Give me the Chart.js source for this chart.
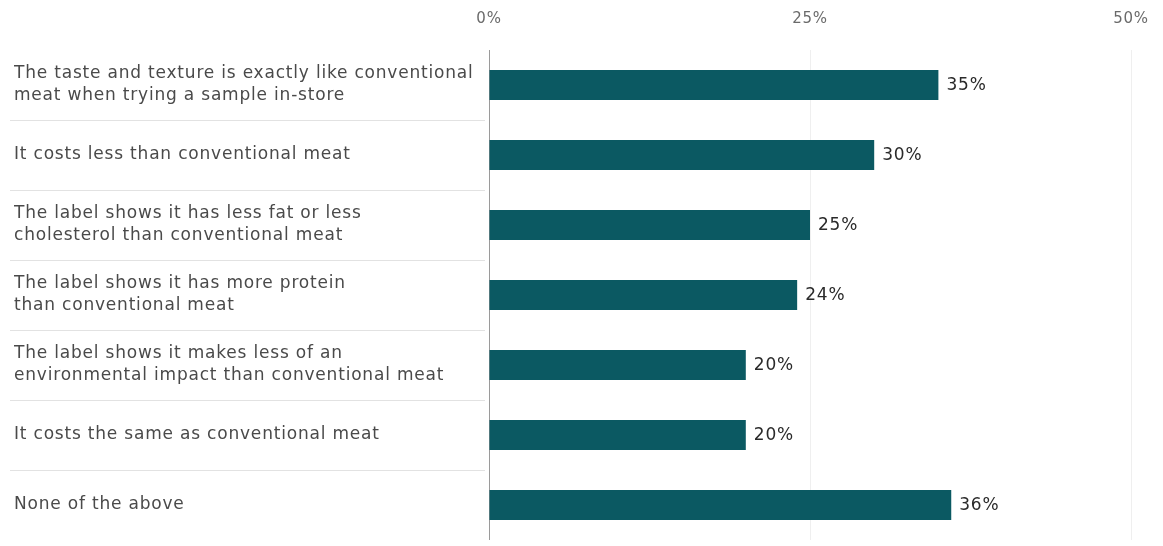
<!DOCTYPE html>
<html>
<head>
<meta charset="utf-8">
<script src="https://cdn.jsdelivr.net/npm/chart.js@4/dist/chart.umd.min.js"></script>
<style>
  html, body { margin: 0; padding: 0; background: #fff; }
  #wrap { width: 1163px; height: 546px; position: relative; }
</style>
</head>
<body>
<div id="wrap"><canvas id="bars"></canvas></div>
<script>
// reasons to buy, one entry per bar (multi-line labels)
var reasons = [
  ["The taste and texture is exactly like conventional", "meat when trying a sample in-store"],
  "It costs less than conventional meat",
  ["The label shows it has less fat or less", "cholesterol than conventional meat"],
  ["The label shows it has more protein", "than conventional meat"],
  ["The label shows it makes less of an", "environmental impact than conventional meat"],
  "It costs the same as conventional meat",
  "None of the above"
];
var shares = [35, 30, 25, 24, 20, 20, 36];
var xTicks = [0, 25, 50];

var FONT = "'DejaVu Sans', 'Noto Sans', sans-serif";

// slightly looser tracking for all text on the canvas
var tracking = {
  id: "tracking",
  beforeDraw: function (chart) {
    chart.ctx.letterSpacing = "0.8px";
  }
};

// value text at the end of each bar
var valueLabels = {
  id: "valueLabels",
  afterDatasetsDraw: function (chart) {
    var ctx = chart.ctx;
    var meta = chart.getDatasetMeta(0);
    ctx.save();
    ctx.font = "17px " + FONT;
    ctx.fillStyle = "#2a2a2a";
    ctx.textBaseline = "middle";
    meta.data.forEach(function (bar, i) {
      ctx.fillText(shares[i] + "%", bar.x + 8, bar.y + 1);
    });
    ctx.restore();
  }
};

// thin rules between the category labels
var separators = {
  id: "separators",
  beforeDraw: function (chart) {
    var ctx = chart.ctx;
    var y = chart.scales.y;
    ctx.save();
    ctx.strokeStyle = "#e2e2e2";
    ctx.lineWidth = 1;
    for (var i = 0; i < reasons.length - 1; i++) {
      var py = Math.round((y.getPixelForValue(i) + y.getPixelForValue(i + 1)) / 2) + 0.5;
      ctx.beginPath();
      ctx.moveTo(10, py);
      ctx.lineTo(chart.chartArea.left - 4, py);
      ctx.stroke();
    }
    ctx.restore();
  }
};

var ctx = document.getElementById("bars").getContext("2d");
var chart = new Chart(ctx, {
  type: "bar",
  data: {
    labels: reasons,
    datasets: [{
      data: shares,
      backgroundColor: "#0b5962",
      borderWidth: 0,
      barPercentage: 0.43,
      categoryPercentage: 1
    }]
  },
  options: {
    indexAxis: "y",
    responsive: true,
    maintainAspectRatio: false,
    animation: false,
    layout: { padding: { left: 14, right: 32, top: 0, bottom: 6 } },
    plugins: {
      legend: { display: false },
      tooltip: { enabled: false }
    },
    scales: {
      x: {
        position: "top",
        min: 0,
        max: 50,
        afterBuildTicks: function (scale) {
          scale.ticks = xTicks.map(function (v) { return { value: v }; });
        },
        afterFit: function (scale) {
          scale.height = 50;
          scale.paddingLeft = 0;
          scale.paddingRight = 0;
        },
        ticks: {
          padding: 22,
          color: "#6a6a6a",
          font: { family: FONT, size: 15 },
          callback: function (v) { return v + "%"; }
        },
        grid: {
          drawTicks: false,
          color: function (c) { return c.tick && c.tick.value === 0 ? "#9a9a9a" : "#efefef"; }
        },
        border: { display: false }
      },
      y: {
        afterFit: function (scale) {
          scale.width = 475;
          scale.paddingTop = 0;
          scale.paddingBottom = 0;
        },
        ticks: {
          crossAlign: "far",
          color: "#4a4a4a",
          font: { family: FONT, size: 17, lineHeight: 1.3 }
        },
        grid: { display: false, drawTicks: false },
        border: { display: false }
      }
    }
  },
  plugins: [tracking, separators, valueLabels]
});
</script>
</body>
</html>
